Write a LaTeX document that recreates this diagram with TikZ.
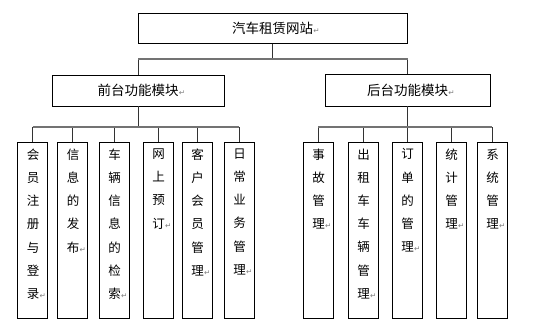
\documentclass[tikz,border=0pt]{standalone}
\usepackage{fontspec}
\setmainfont{Noto Sans CJK SC}
\newfontfamily\dejavu{DejaVu Sans}
\newcommand{\retmk}{\rlap{\hspace{0.3pt}{\dejavu\fontsize{7.5}{7.5}\selectfont\color{gray}↵}}}
\tikzset{
  box/.style={draw=black, line width=0.8pt, fill=white, inner sep=0pt},
  headbox/.style={box, font=\fontsize{13.5}{14}\selectfont},
  colbox/.style={box, minimum width=30pt, minimum height=176pt},
  coltext/.style={anchor=north, inner sep=0pt, align=center, font=\fontsize{12.5}{23.2}\selectfont},
  bus/.style={draw=black!55, line width=1.3pt},
  link/.style={draw=black!80, line width=0.7pt},
}
\begin{document}
\begin{tikzpicture}[x=1pt,y=-1pt]
\useasboundingbox[fill=white] (0,0) rectangle (537,331);
% top
\node[headbox, minimum width=269pt, minimum height=30pt] (top) at (272.5,28.5) {汽车租赁网站\retmk};
\node[headbox, minimum width=172pt, minimum height=31pt] (front) at (138,90.5) {前台功能模块\retmk};
\node[headbox, minimum width=165pt, minimum height=32pt] (back) at (407.5,90) {后台功能模块\retmk};
% left children
\node[colbox] (L1) at (32.5,230) {};
\node[colbox] (L2) at (72.5,230) {};
\node[colbox] (L3) at (114,230) {};
\node[colbox] (L4) at (158,230) {};
\node[colbox] (L5) at (197,230) {};
\node[colbox] (L6) at (239,230) {};
\node[coltext] (L1t) at (33,148.5) {会\\员\\注\\册\\与\\登\\录\retmk};
\node[coltext] (L2t) at (73,148.5) {信\\息\\的\\发\\布\retmk};
\node[coltext] (L3t) at (114.5,148.5) {车\\辆\\信\\息\\的\\检\\索\retmk};
\node[coltext] (L4t) at (158.5,148.5) {网\\上\\预\\订\retmk};
\node[coltext] (L5t) at (197.5,148.5) {客\\户\\会\\员\\管\\理\retmk};
\node[coltext] (L6t) at (239.5,148.5) {日\\常\\业\\务\\管\\理\retmk};
% right children
\node[colbox] (R1) at (318,230) {};
\node[colbox] (R2) at (363,230) {};
\node[colbox] (R3) at (407,230) {};
\node[colbox] (R4) at (451,230.5) {};
\node[colbox] (R5) at (492,230.5) {};
\node[coltext] (R1t) at (318.5,148.5) {事\\故\\管\\理\retmk};
\node[coltext] (R2t) at (363.5,148.5) {出\\租\\车\\车\\辆\\管\\理\retmk};
\node[coltext] (R3t) at (407.5,148.5) {订\\单\\的\\管\\理\retmk};
\node[coltext] (R4t) at (451.5,148.5) {统\\计\\管\\理\retmk};
\node[coltext] (R5t) at (492.5,148.5) {系\\统\\管\\理\retmk};
% bus coordinates
\coordinate (tbus) at (0,59);
\coordinate (lbus) at (0,127);
\coordinate (rbus) at (0,127);
% top level connectors
\draw[link] (top.south) -- (top.south |- tbus);
\draw[link] (front.north) -- (front.north |- tbus);
\draw[link] (back.north) -- (back.north |- tbus);
\draw[bus] (front.north |- tbus) -- (back.north |- tbus);
% left
\draw[link] (front.south) -- (front.south |- lbus);
\foreach \n in {L1,L2,L3,L4,L5,L6}{\draw[link] (\n.north) -- (\n.north |- lbus);}
\draw[bus] (L1.north |- lbus) -- (L6.north |- lbus);
% right
\draw[link] (back.south) -- (back.south |- rbus);
\foreach \n in {R1,R2,R3,R4,R5}{\draw[link] (\n.north) -- (\n.north |- rbus);}
\draw[bus] (R1.north |- rbus) -- (R5.north |- rbus);
\end{tikzpicture}
\end{document}
